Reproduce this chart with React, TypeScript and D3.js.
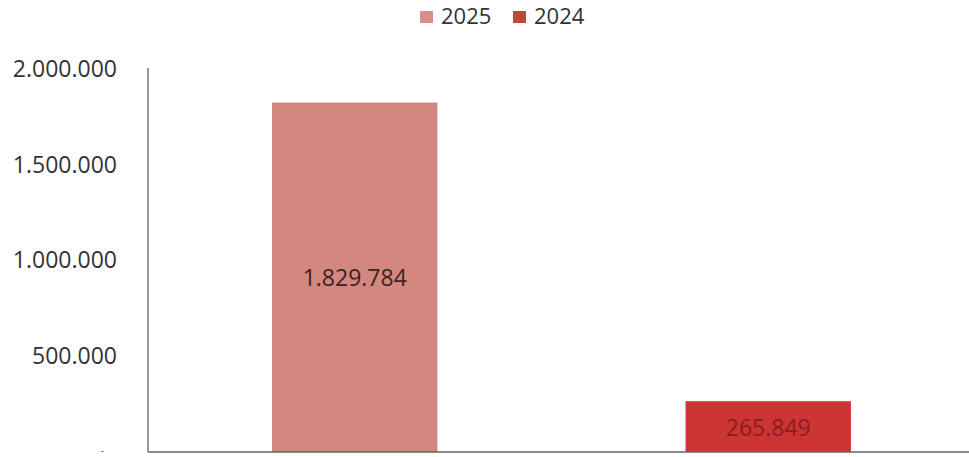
import React from 'react'
import * as d3 from 'd3'

// values
const years = ['2025', '2024']
const values = [1829784, 265849]
const barColors = ['#d4877f', '#cd3434']
const labelColors = ['#3a2222', '#8a1c22']
const legendColors = ['#d88e8e', '#bb4a3a']
const yTicks = [0, 500000, 1000000, 1500000, 2000000]

const fmt = (v: number) => (v === 0 ? '-' : d3.format(',')(v).replace(/,/g, '.'))

const App: React.FC = () => {
    const width = 969
    const height = 457
    const left = 148
    const top = 70
    const bottom = 452

    const x = d3.scaleBand<string>().domain(years).range([left, 975]).paddingInner(0.6).paddingOuter(0.3)
    const y = d3.scaleLinear().domain([0, 2000000]).range([bottom, top])

    const font = "'Open Sans', 'Liberation Sans', sans-serif"

    return (
        <svg
            width={width}
            height={height}
            style={{ position: 'absolute', left: 0, top: 0, background: '#fff' }}
            fontFamily={font}
        >
            {/* legend */}
            {years.map((yr, i) => (
                <g key={yr} transform={`translate(${420 + i * 93},0)`}>
                    <rect x={0} y={11} width={13} height={12} fill={legendColors[i]} />
                    <text x={21} y={24} fontSize={22} fill="#333">
                        {yr}
                    </text>
                </g>
            ))}

            {/* y tick labels */}
            {yTicks.map((t) =>
                t === 0 ? (
                    <text key={t} x={104} y={454} textAnchor="end" fontSize={10} fill="#555">
                        {fmt(t)}
                    </text>
                ) : (
                    <text key={t} x={117} y={y(t) + 7} textAnchor="end" fontSize={23} fill="#333">
                        {fmt(t)}
                    </text>
                )
            )}

            {/* bars */}
            {years.map((yr, i) => (
                <g key={yr}>
                    <rect
                        x={x(yr)}
                        y={y(values[i])}
                        width={x.bandwidth()}
                        height={bottom - y(values[i])}
                        fill={barColors[i]}
                    />
                    <text
                        x={(x(yr) ?? 0) + x.bandwidth() / 2}
                        y={(y(values[i]) + bottom) / 2 + 9}
                        textAnchor="middle"
                        fontSize={23}
                        fill={labelColors[i]}
                    >
                        {fmt(values[i])}
                    </text>
                </g>
            ))}

            {/* axes */}
            <line x1={left} x2={left} y1={68} y2={bottom} stroke="#777" strokeWidth={1.5} />
            <line x1={left} x2={width} y1={bottom} y2={bottom} stroke="#666" strokeWidth={1.5} />
        </svg>
    )
}

export default App
